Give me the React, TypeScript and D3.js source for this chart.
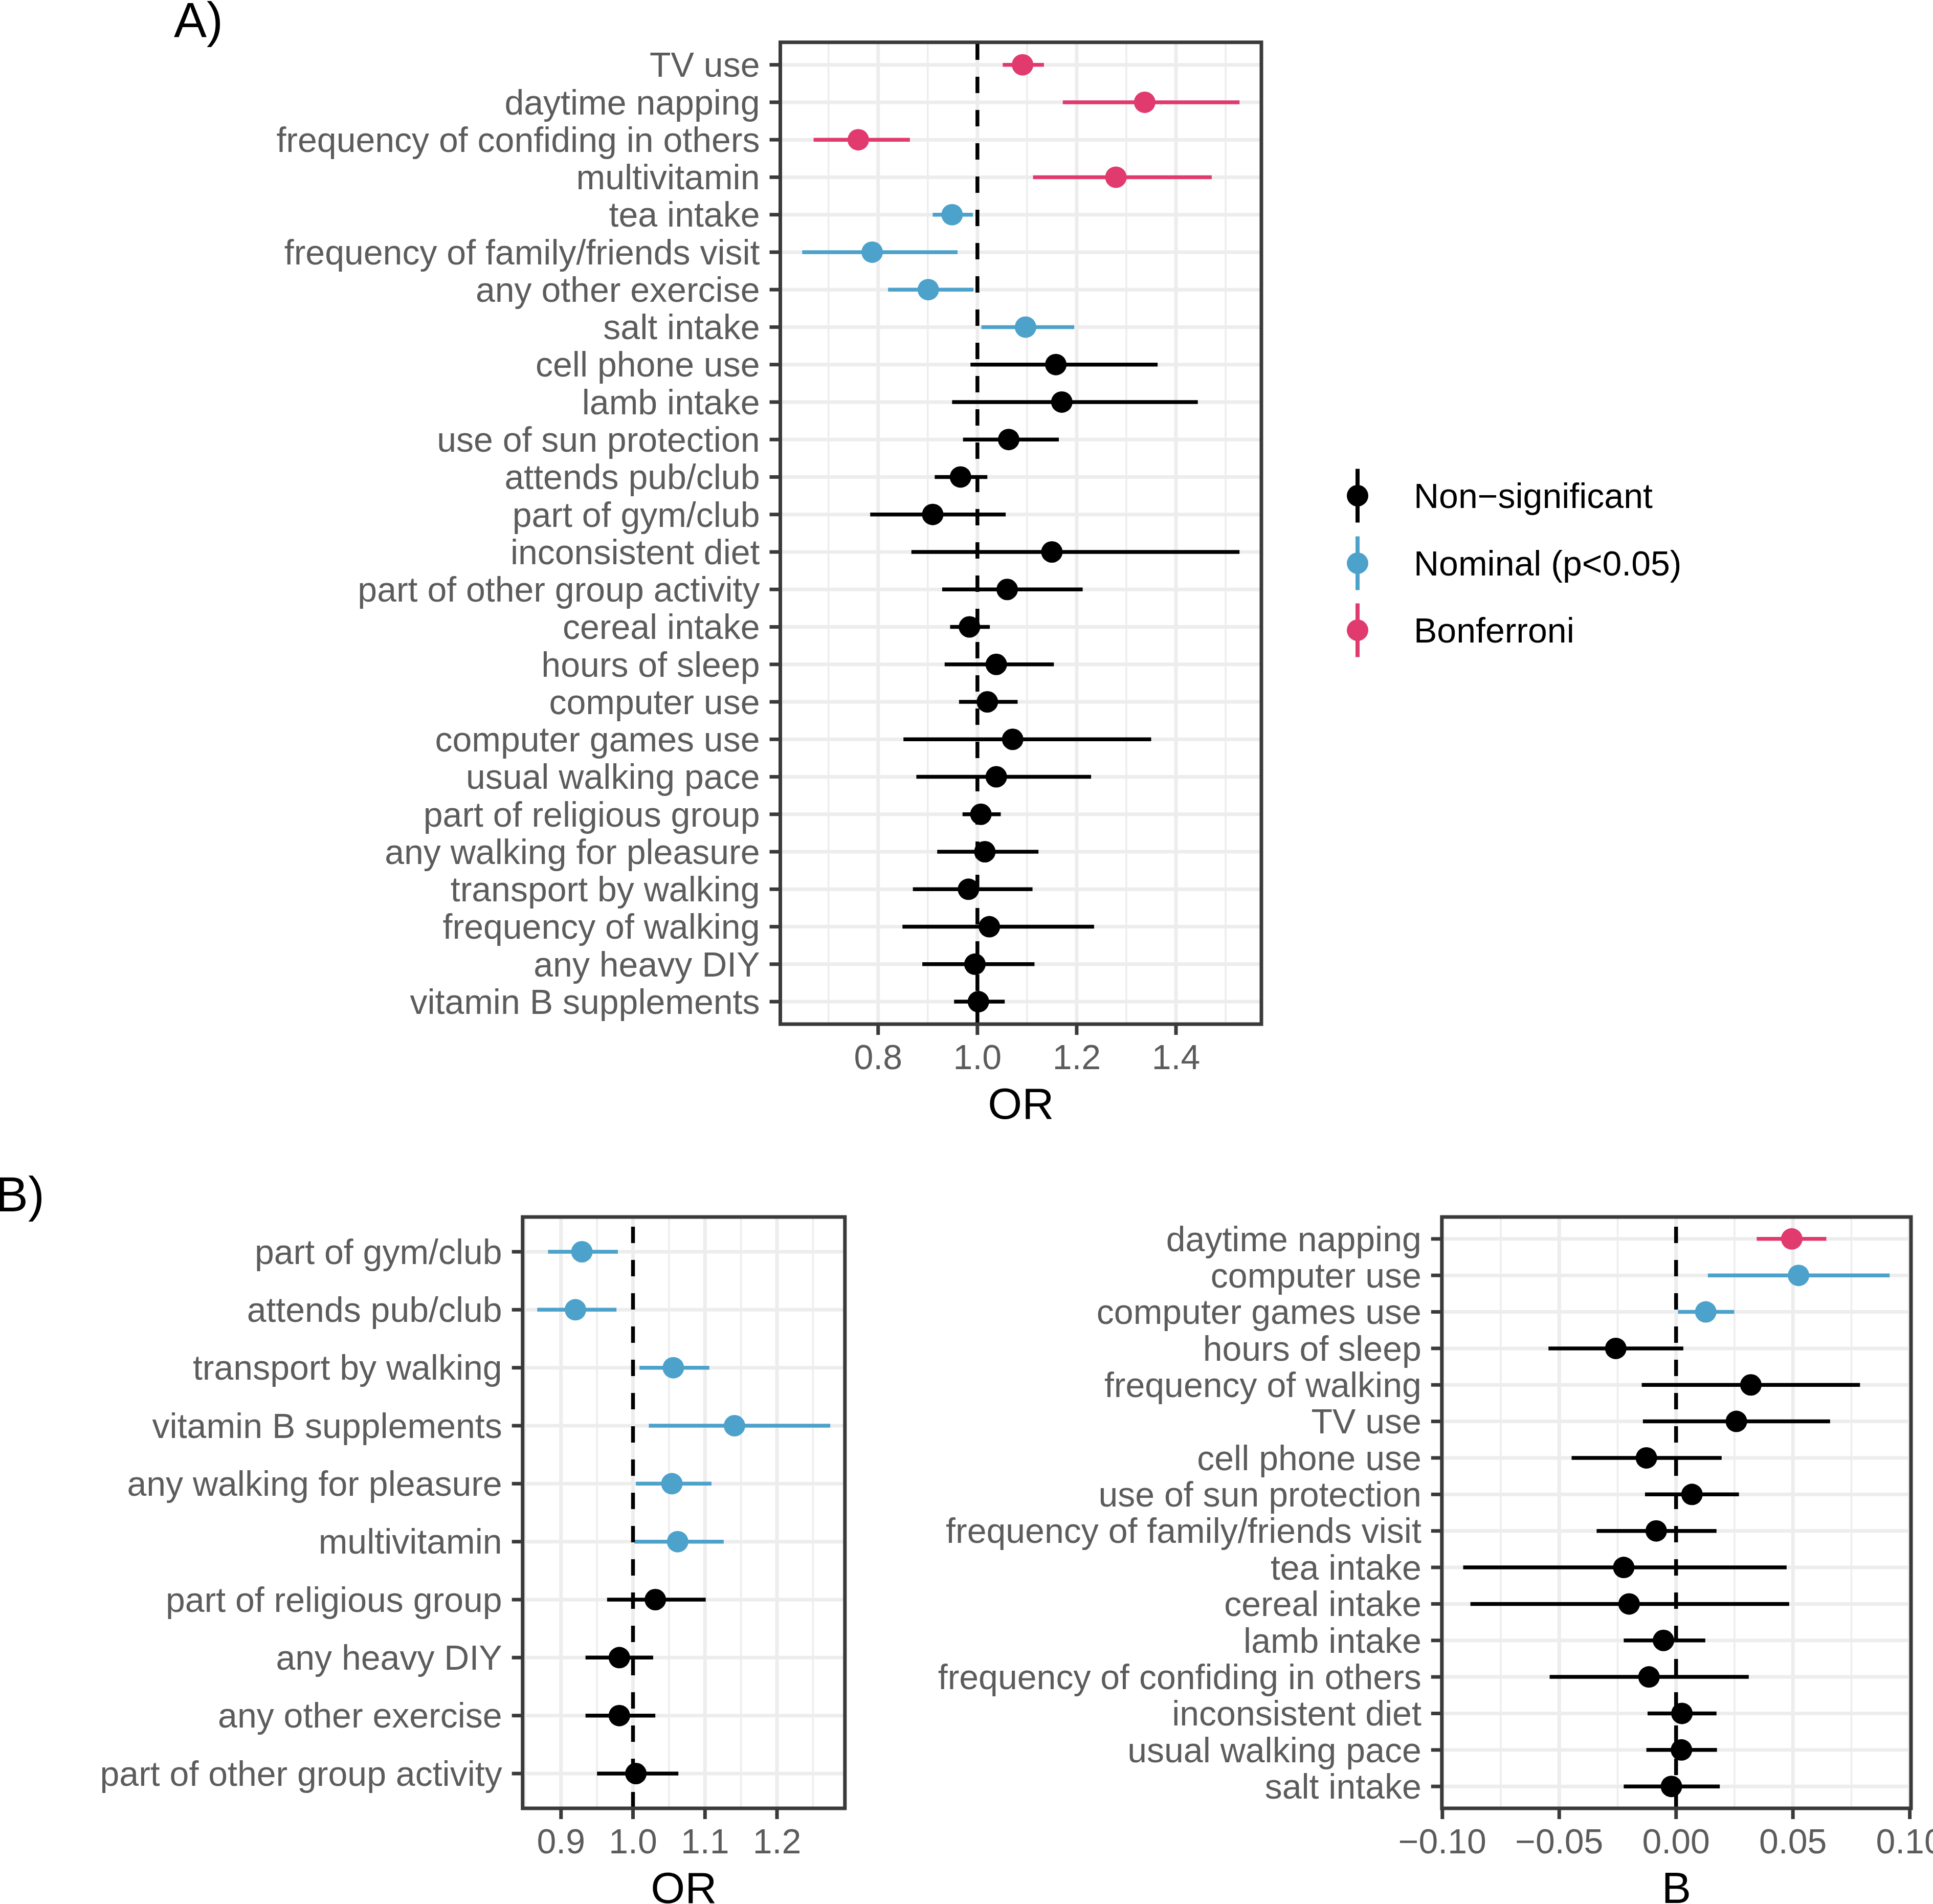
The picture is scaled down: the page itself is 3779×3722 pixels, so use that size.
import React from "react";
import * as d3 from "d3";

// ---------- Panel A data ----------
const aLabels = [
  "TV use", "daytime napping", "frequency of confiding in others", "multivitamin",
  "tea intake", "frequency of family/friends visit", "any other exercise", "salt intake",
  "cell phone use", "lamb intake", "use of sun protection", "attends pub/club",
  "part of gym/club", "inconsistent diet", "part of other group activity", "cereal intake",
  "hours of sleep", "computer use", "computer games use", "usual walking pace",
  "part of religious group", "any walking for pleasure", "transport by walking",
  "frequency of walking", "any heavy DIY", "vitamin B supplements",
];
const aEst = [1.091, 1.337, 0.760, 1.279, 0.949, 0.788, 0.901, 1.097, 1.158, 1.170, 1.063, 0.966, 0.910,
  1.150, 1.060, 0.984, 1.038, 1.020, 1.071, 1.038, 1.007, 1.015, 0.982, 1.024, 0.995, 1.002];
const aLo = [1.051, 1.172, 0.670, 1.112, 0.910, 0.647, 0.820, 1.008, 0.986, 0.949, 0.971, 0.914, 0.784,
  0.867, 0.929, 0.945, 0.934, 0.963, 0.851, 0.877, 0.970, 0.919, 0.870, 0.849, 0.889, 0.953];
const aHi = [1.134, 1.528, 0.864, 1.472, 0.991, 0.960, 0.992, 1.195, 1.363, 1.444, 1.164, 1.020, 1.057,
  1.528, 1.212, 1.025, 1.154, 1.081, 1.350, 1.229, 1.047, 1.123, 1.111, 1.235, 1.115, 1.055];
const aSig = [2, 2, 2, 2, 1, 1, 1, 1, 0, 0, 0, 0, 0, 0, 0, 0, 0, 0, 0, 0, 0, 0, 0, 0, 0, 0];
const aTicks = [0.8, 1.0, 1.2, 1.4];
const aMinor = [0.7, 0.9, 1.1, 1.3, 1.5];

// ---------- Panel B (left) data ----------
const bLabels = [
  "part of gym/club", "attends pub/club", "transport by walking", "vitamin B supplements",
  "any walking for pleasure", "multivitamin", "part of religious group", "any heavy DIY",
  "any other exercise", "part of other group activity",
];
const bEst = [0.929, 0.920, 1.056, 1.141, 1.054, 1.062, 1.031, 0.981, 0.981, 1.004];
const bLo = [0.882, 0.867, 1.009, 1.022, 1.004, 1.002, 0.964, 0.934, 0.934, 0.950];
const bHi = [0.979, 0.977, 1.106, 1.274, 1.109, 1.126, 1.101, 1.028, 1.031, 1.063];
const bSig = [1, 1, 1, 1, 1, 1, 0, 0, 0, 0];
const bTicks = [0.9, 1.0, 1.1, 1.2];
const bMinor = [0.85, 0.95, 1.05, 1.15, 1.25];

// ---------- Panel B (right) data ----------
const cLabels = [
  "daytime napping", "computer use", "computer games use", "hours of sleep",
  "frequency of walking", "TV use", "cell phone use", "use of sun protection",
  "frequency of family/friends visit", "tea intake", "cereal intake", "lamb intake",
  "frequency of confiding in others", "inconsistent diet", "usual walking pace", "salt intake",
];
const cEst = [0.0495, 0.0524, 0.0127, -0.0258, 0.0320, 0.0258, -0.0127, 0.0068, -0.0085, -0.0224,
  -0.0201, -0.0054, -0.0116, 0.0025, 0.0023, -0.0020];
const cLo = [0.0345, 0.0136, 0.0008, -0.0546, -0.0147, -0.0142, -0.0447, -0.0133, -0.0340, -0.0911,
  -0.0880, -0.0224, -0.0541, -0.0122, -0.0127, -0.0224];
const cHi = [0.0643, 0.0914, 0.0249, 0.0031, 0.0787, 0.0659, 0.0195, 0.0269, 0.0173, 0.0473,
  0.0484, 0.0125, 0.0311, 0.0173, 0.0175, 0.0187];
const cSig = [2, 1, 1, 0, 0, 0, 0, 0, 0, 0, 0, 0, 0, 0, 0, 0];
const cTicks = [-0.10, -0.05, 0.0, 0.05, 0.10];
const cMinor = [-0.075, -0.025, 0.025, 0.075];

// ---------- Legend ----------
const legendLabels = ["Non\u2212significant", "Nominal (p<0.05)", "Bonferroni"];
const sigColors = ["#000000", "#4DA2CB", "#E03A6E"];

const FONT = "'Liberation Sans', Arial, Helvetica, sans-serif";
const GRID = "#EDEDED";
const DARK = "#3A3A3A";
const TXT = "#5C5C5C";

type PanelProps = {
  labels: string[]; est: number[]; lo: number[]; hi: number[]; sig: number[];
  ticks: number[]; minor: number[]; fmt: (v: number) => string; refV: number;
  left: number; top: number; right: number; bottom: number; title: string;
};

function Panel(p: PanelProps) {
  const mn = d3.min(p.lo) as number;
  const mx = d3.max(p.hi) as number;
  const ext = (mx - mn) * 0.05;
  const x = d3.scaleLinear().domain([mn - ext, mx + ext]).range([p.left, p.right]);
  const y = d3.scalePoint<string>().domain(p.labels).range([p.top, p.bottom]).padding(0.6);
  const lw = 7;
  const clipId = "clip" + Math.round(p.left);
  return (
    <g>
      <defs>
        <clipPath id={clipId}>
          <rect x={p.left} y={p.top} width={p.right - p.left} height={p.bottom - p.top} />
        </clipPath>
      </defs>
      <rect x={p.left} y={p.top} width={p.right - p.left} height={p.bottom - p.top} fill="#fff" />
      <g clipPath={`url(#${clipId})`}>
        {p.minor.map((v) => (
          <line key={"mi" + v} x1={x(v)} x2={x(v)} y1={p.top} y2={p.bottom} stroke={GRID} strokeWidth={lw / 2} />
        ))}
        {p.ticks.map((v) => (
          <line key={"ma" + v} x1={x(v)} x2={x(v)} y1={p.top} y2={p.bottom} stroke={GRID} strokeWidth={lw} />
        ))}
        {p.labels.map((l) => (
          <line key={"h" + l} x1={p.left} x2={p.right} y1={y(l)} y2={y(l)} stroke={GRID} strokeWidth={lw} />
        ))}
        {p.labels.map((l, i) => (
          <g key={"pr" + l}>
            <line x1={x(p.lo[i])} x2={x(p.hi[i])} y1={y(l)} y2={y(l)} stroke={sigColors[p.sig[i]]} strokeWidth={7.5} />
            <circle cx={x(p.est[i])} cy={y(l)} r={21} fill={sigColors[p.sig[i]]} />
          </g>
        ))}
        <line x1={x(p.refV)} x2={x(p.refV)} y1={p.bottom} y2={p.top} stroke="#000" strokeWidth={7.5} strokeDasharray="32,33" />
      </g>
      <rect x={p.left} y={p.top} width={p.right - p.left} height={p.bottom - p.top} fill="none" stroke={DARK} strokeWidth={lw} />
      {p.labels.map((l) => (
        <g key={"yl" + l}>
          <line x1={p.left - 21} x2={p.left} y1={y(l)} y2={y(l)} stroke={DARK} strokeWidth={lw} />
          <text x={p.left - 40} y={y(l)} dy="0.35em" textAnchor="end" fontSize={68} fill={TXT} fontFamily={FONT}>{l}</text>
        </g>
      ))}
      {p.ticks.map((v) => (
        <g key={"xl" + v}>
          <line x1={x(v)} x2={x(v)} y1={p.bottom} y2={p.bottom + 21} stroke={DARK} strokeWidth={lw} />
          <text x={x(v)} y={p.bottom + 88} textAnchor="middle" fontSize={68} fill={TXT} fontFamily={FONT}>{p.fmt(v)}</text>
        </g>
      ))}
      <text x={(p.left + p.right) / 2} y={p.bottom + 185} textAnchor="middle" fontSize={86} fill="#000" fontFamily={FONT}>{p.title}</text>
    </g>
  );
}

export default function App() {
  const f1 = d3.format(".1f");
  const f2 = d3.format(".2f");
  const legendY = [969, 1101, 1232];
  return (
    <svg width={3779} height={3722} style={{ position: "absolute", left: 0, top: 0, background: "#fff" }}>
      <rect x={0} y={0} width={3779} height={3722} fill="#fff" />
      <text x={340} y={72} fontSize={96} fill="#000" fontFamily={FONT}>A)</text>
      <text x={-9} y={2368} fontSize={96} fill="#000" fontFamily={FONT}>B)</text>
      <Panel labels={aLabels} est={aEst} lo={aLo} hi={aHi} sig={aSig} ticks={aTicks} minor={aMinor}
        fmt={f1} refV={1} left={1525.5} top={82.7} right={2466} bottom={2002} title="OR" />
      <Panel labels={bLabels} est={bEst} lo={bLo} hi={bHi} sig={bSig} ticks={bTicks} minor={bMinor}
        fmt={f1} refV={1} left={1021.7} top={2379} right={1651.8} bottom={3535} title="OR" />
      <Panel labels={cLabels} est={cEst} lo={cLo} hi={cHi} sig={cSig} ticks={cTicks} minor={cMinor}
        fmt={f2} refV={0} left={2818.8} top={2379} right={3736} bottom={3535} title="B" />
      {legendLabels.map((l, i) => (
        <g key={l}>
          <line x1={2654} x2={2654} y1={legendY[i] - 52.5} y2={legendY[i] + 52.5} stroke={sigColors[i]} strokeWidth={8} />
          <circle cx={2654} cy={legendY[i]} r={21} fill={sigColors[i]} />
          <text x={2764} y={legendY[i]} dy="0.35em" fontSize={68} fill="#000" fontFamily={FONT}>{l}</text>
        </g>
      ))}
    </svg>
  );
}
